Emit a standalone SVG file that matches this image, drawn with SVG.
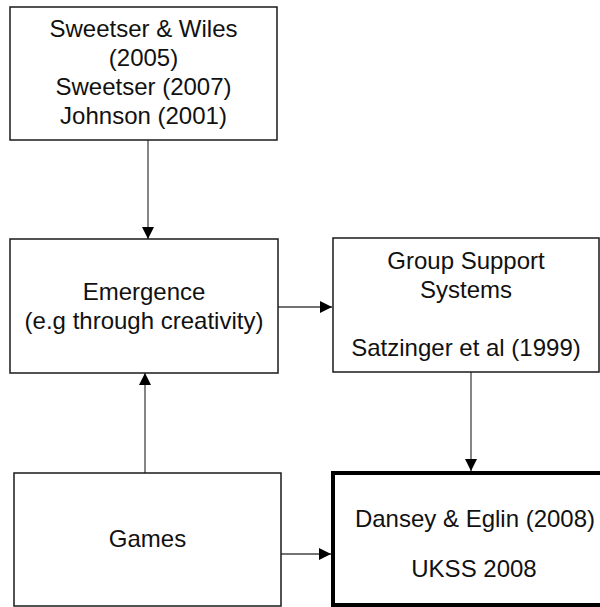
<svg xmlns="http://www.w3.org/2000/svg" width="600" height="607" viewBox="0 0 600 607">
<style>
.box{fill:#fff;stroke:#1a1a1a;stroke-width:1.5}
.thick{fill:#fff;stroke:#000;stroke-width:4}
.t{font-family:"Liberation Sans",Arial,sans-serif;font-size:24px;fill:#111;text-anchor:middle}
.c{stroke:#444;stroke-width:1.3;fill:none;marker-end:url(#ah)}
</style>
<defs>
<marker id="ah" markerWidth="12" markerHeight="12" refX="12" refY="6" orient="auto" markerUnits="userSpaceOnUse">
<path d="M0,0 L12,6 L0,12 Z" fill="#000"/>
</marker>
</defs>
<rect width="600" height="607" fill="#fff"/>
<g id="connectors">
<line class="c" x1="148" y1="140" x2="148" y2="239"/>
<line class="c" x1="145" y1="473" x2="145" y2="373"/>
<line class="c" x1="278" y1="307" x2="332" y2="307"/>
<line class="c" x1="471" y1="372" x2="471" y2="471"/>
<line class="c" x1="281" y1="554" x2="331" y2="554"/>
</g>
<g id="refs">
<rect class="box" x="10" y="7" width="267" height="133"/>
<text class="t" x="143.5" y="37">Sweetser &amp; Wiles</text>
<text class="t" x="143.5" y="66">(2005)</text>
<text class="t" x="143.5" y="95">Sweetser (2007)</text>
<text class="t" x="143.5" y="124">Johnson (2001)</text>
</g>
<g id="emergence">
<rect class="box" x="10" y="239" width="268" height="134"/>
<text class="t" x="144" y="300">Emergence</text>
<text class="t" x="144" y="329">(e.g through creativity)</text>
</g>
<g id="gss">
<rect class="box" x="333" y="238" width="266" height="134"/>
<text class="t" x="466" y="269">Group Support</text>
<text class="t" x="466" y="298">Systems</text>
<text class="t" x="466" y="356">Satzinger et al (1999)</text>
</g>
<g id="games">
<rect class="box" x="14" y="473" width="267" height="133"/>
<text class="t" x="147.5" y="547">Games</text>
</g>
<g id="dansey">
<rect class="thick" x="333" y="473" width="290" height="132"/>
<text class="t" x="475" y="527">Dansey &amp; Eglin (2008)</text>
<text class="t" x="474" y="577">UKSS 2008</text>
</g>
</svg>
